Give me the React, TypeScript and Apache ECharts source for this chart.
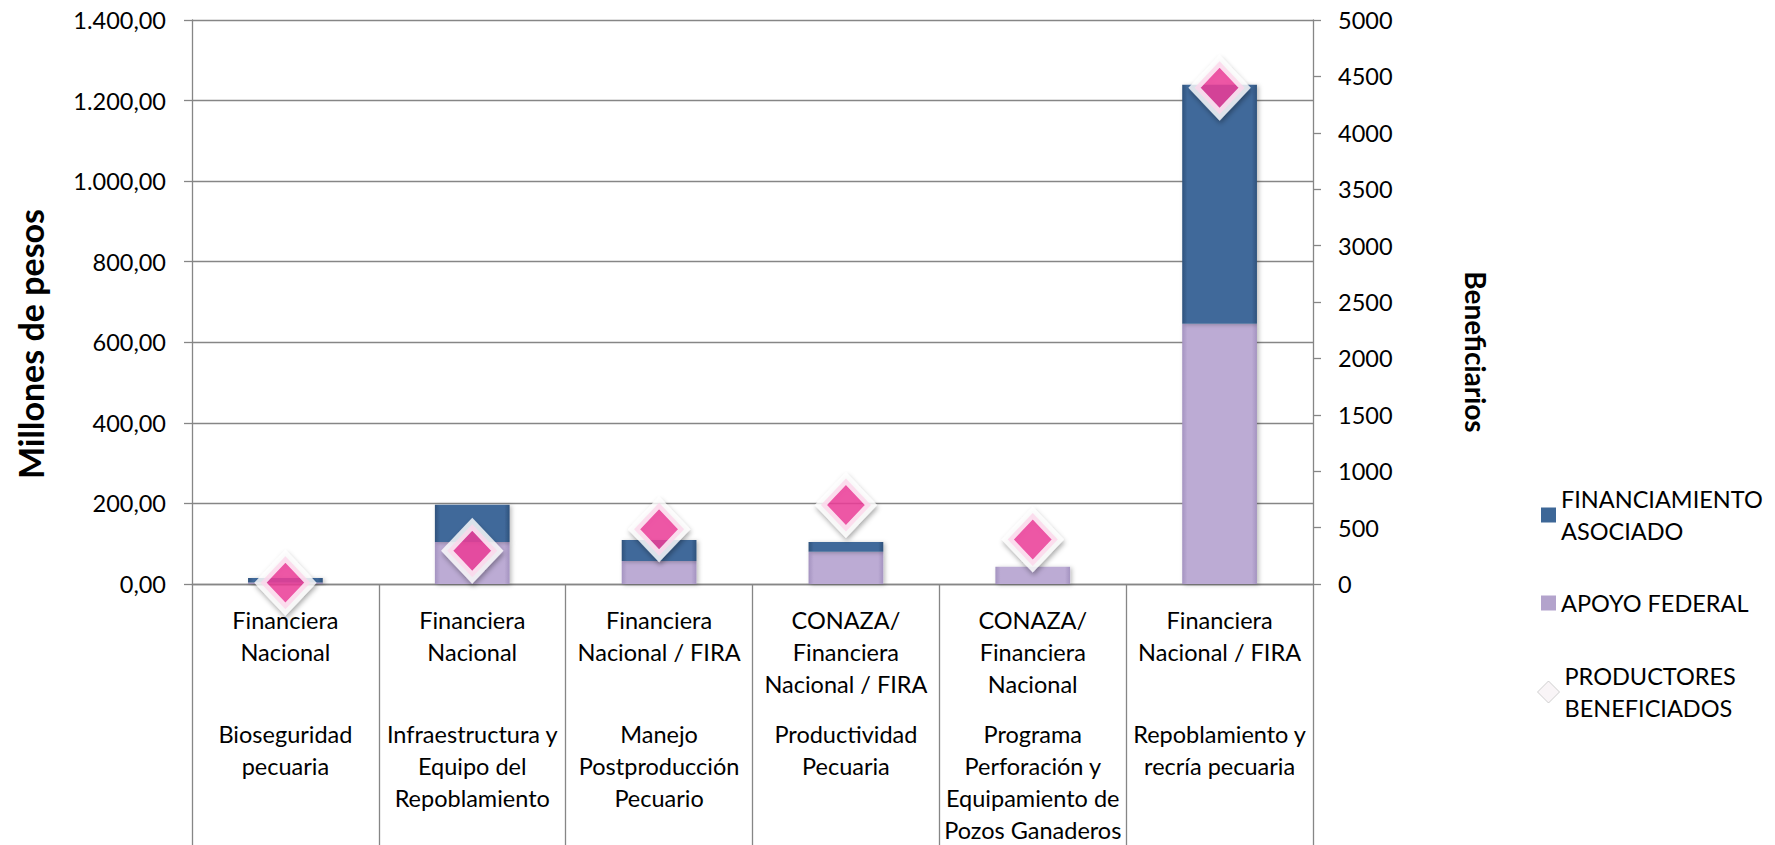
import React, { useEffect, useRef } from "react";
import * as echarts from "echarts";

// ---- data ----
const entities: string[] = [
  "Financiera\nNacional",
  "Financiera\nNacional",
  "Financiera\nNacional / FIRA",
  "CONAZA/\nFinanciera\nNacional / FIRA",
  "CONAZA/\nFinanciera\nNacional",
  "Financiera\nNacional / FIRA",
];
const programs: string[] = [
  "Bioseguridad\npecuaria",
  "Infraestructura y\nEquipo del\nRepoblamiento",
  "Manejo\nPostproducción\nPecuario",
  "Productividad\nPecuaria",
  "Programa\nPerforación y\nEquipamiento de\nPozos Ganaderos",
  "Repoblamiento y\nrecría pecuaria",
];
const apoyoFederal: number[] = [4, 104, 57, 80, 43, 646];
const financiamientoAsociado: number[] = [11, 93, 52, 24, 0, 593];
const productoresBeneficiados: number[] = [12, 295, 485, 700, 395, 4400];

const SERIES_FIN = "FINANCIAMIENTO ASOCIADO";
const SERIES_APOYO = "APOYO FEDERAL";
const SERIES_PROD = "PRODUCTORES BENEFICIADOS";

const FONT = "Lato, 'Noto Sans', sans-serif";
const GREY = "#868686";
const TEXT = "#000000";

function fmtMoney(v: number): string {
  const fixed = v.toFixed(2);
  const [intPart, dec] = fixed.split(".");
  const withDots = intPart.replace(/\B(?=(\d{3})+(?!\d))/g, ".");
  return withDots + "," + dec;
}

function catLabel(_value: string, index: number): string {
  const ent = entities[index].split("\n");
  const prog = programs[index].split("\n");
  const lines: string[] = [];
  for (let i = 0; i < 3; i++) {
    lines.push(i < ent.length ? "{a|" + ent[i] + "}" : "{a| }");
  }
  lines.push("{s| }");
  prog.forEach((p) => lines.push("{a|" + p + "}"));
  return lines.join("\n");
}

const blueGrad = () =>
  new echarts.graphic.LinearGradient(0, 0, 1, 0, [
    { offset: 0, color: "#2f527c" },
    { offset: 0.07, color: "#40699a" },
    { offset: 0.93, color: "#40699a" },
    { offset: 1, color: "#2f527c" },
  ]);
const purpleGrad = () =>
  new echarts.graphic.LinearGradient(0, 0, 1, 0, [
    { offset: 0, color: "#a493c0" },
    { offset: 0.07, color: "#bcabd4" },
    { offset: 0.93, color: "#bcabd4" },
    { offset: 1, color: "#a493c0" },
  ]);

export default function App() {
  const ref = useRef<HTMLDivElement>(null);

  useEffect(() => {
    if (!ref.current) return;
    const chart = echarts.init(ref.current, undefined, { renderer: "svg" });

    const legendText = {
      fontFamily: FONT,
      fontSize: 23.5,
      lineHeight: 32,
      color: TEXT,
    };

    const option: any = {
      animation: false,
      backgroundColor: "#ffffff",
      grid: { left: 192, right: 462, top: 20, bottom: 261 },
      legend: [
        {
          orient: "vertical",
          left: 1541,
          top: 467,
          padding: 0,
          itemWidth: 15,
          itemHeight: 15,
          selectedMode: false,
          data: [{ name: SERIES_FIN, icon: "rect", itemStyle: { color: "#3d6797", shadowBlur: 0, borderWidth: 0 } }],
          formatter: () => "FINANCIAMIENTO\nASOCIADO",
          textStyle: { ...legendText, padding: [32, 0, 0, 0] },
        },
        {
          orient: "vertical",
          left: 1541,
          top: 587,
          padding: 0,
          itemWidth: 15,
          itemHeight: 15,
          selectedMode: false,
          data: [{ name: SERIES_APOYO, icon: "rect", itemStyle: { color: "#b3a3cc", shadowBlur: 0, borderWidth: 0 } }],
          textStyle: { ...legendText },
        },
        {
          orient: "vertical",
          left: 1537,
          top: 644,
          padding: 0,
          itemWidth: 22,
          itemHeight: 22,
          selectedMode: false,
          data: [
            {
              name: SERIES_PROD,
              icon: "diamond",
              itemStyle: { color: "#f7f2f5", borderColor: "#c4c4c4", borderWidth: 1, shadowBlur: 0, decal: "none" },
            },
          ],
          formatter: () => "PRODUCTORES\nBENEFICIADOS",
          textStyle: { ...legendText, padding: [32, 0, 0, 0] },
        },
      ],
      xAxis: {
        type: "category",
        data: programs,
        axisLine: { show: true, lineStyle: { color: GREY, width: 1.3 } },
        axisTick: { show: true, interval: 0, length: 262, lineStyle: { color: GREY, width: 1.3 } },
        axisLabel: {
          interval: 0,
          margin: 20,
          formatter: catLabel,
          rich: {
            a: { fontFamily: FONT, fontSize: 23.5, lineHeight: 32, color: TEXT, align: "center" },
            s: { fontSize: 2, lineHeight: 18 },
          },
        },
        splitLine: { show: false },
      },
      yAxis: [
        {
          type: "value",
          position: "left",
          min: 0,
          max: 1400,
          interval: 200,
          name: "Millones de pesos",
          nameLocation: "middle",
          nameGap: 145,
          nameRotate: 90,
          nameTextStyle: {
            fontFamily: FONT,
            fontSize: 34,
            fontWeight: "bold",
            color: TEXT,
            padding: [0, 84, 0, 0],
          },
          axisLine: { show: true, lineStyle: { color: GREY, width: 1.3 } },
          axisTick: { show: true, length: 8, lineStyle: { color: GREY, width: 1.3 } },
          axisLabel: {
            margin: 26,
            formatter: (v: number) => fmtMoney(v),
            fontFamily: FONT,
            fontSize: 23.5,
            color: TEXT,
          },
          splitLine: { show: true, lineStyle: { color: GREY, width: 1.3 } },
        },
        {
          type: "value",
          position: "right",
          min: 0,
          max: 5000,
          interval: 500,
          name: "Beneficiarios",
          nameLocation: "middle",
          nameGap: 149,
          nameRotate: -90,
          nameTextStyle: {
            fontFamily: FONT,
            fontSize: 28,
            fontWeight: "bold",
            color: TEXT,
            padding: [0, 0, 0, 100],
          },
          axisLine: { show: true, lineStyle: { color: GREY, width: 1.3 } },
          axisTick: { show: true, length: 8, lineStyle: { color: GREY, width: 1.3 } },
          axisLabel: {
            margin: 25,
            formatter: (v: number) => String(v),
            fontFamily: FONT,
            fontSize: 23.5,
            color: TEXT,
          },
          splitLine: { show: false },
        },
      ],
      series: [
        {
          name: SERIES_APOYO,
          type: "bar",
          stack: "total",
          barWidth: "40%",
          data: apoyoFederal,
          itemStyle: {
            color: purpleGrad(),
            shadowColor: "rgba(0,0,0,0.25)",
            shadowBlur: 4,
            shadowOffsetX: 2,
            shadowOffsetY: 1,
          },
        },
        {
          name: SERIES_FIN,
          type: "bar",
          stack: "total",
          barWidth: "40%",
          data: financiamientoAsociado,
          itemStyle: {
            color: blueGrad(),
            shadowColor: "rgba(0,0,0,0.25)",
            shadowBlur: 4,
            shadowOffsetX: 2,
            shadowOffsetY: 1,
          },
        },
        {
          name: SERIES_PROD,
          type: "scatter",
          yAxisIndex: 1,
          data: productoresBeneficiados,
          symbol: "diamond",
          symbolSize: [50, 53],
          clip: false,
          z: 5,
          itemStyle: {
            color: "#f23d9c",
            borderColor: "#ffffff",
            borderWidth: 9,
            shadowColor: "rgba(0,0,0,0.4)",
            shadowBlur: 5,
            shadowOffsetX: 1,
            shadowOffsetY: 3,
            decal: {
              symbol: "circle",
              symbolSize: 0.7,
              color: "rgba(255,255,255,0.3)",
              dashArrayX: [6, 4],
              dashArrayY: [6, 4],
            },
          },
        },
      ],
    };

    chart.setOption(option);
    return () => chart.dispose();
  }, []);

  return (
    <div
      ref={ref}
      style={{ position: "fixed", left: 0, top: 0, width: 1775, height: 845, background: "#fff" }}
    />
  );
}
